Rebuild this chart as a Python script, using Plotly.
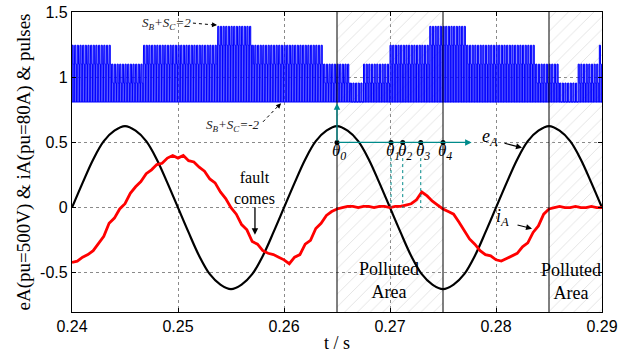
import numpy as np
import plotly.graph_objects as go

# ---------------- data ----------------
t_e = [round(0.24 + 0.001 * i, 4) for i in range(51)]
eA = [0, 0.19, 0.37, 0.51, 0.59, 0.625, 0.59, 0.51, 0.37, 0.19,
      0, -0.19, -0.37, -0.51, -0.59, -0.625, -0.59, -0.51, -0.37, -0.19,
      0, 0.19, 0.37, 0.51, 0.59, 0.625, 0.59, 0.51, 0.37, 0.19,
      0, -0.19, -0.37, -0.51, -0.59, -0.625, -0.59, -0.51, -0.37, -0.19,
      0, 0.19, 0.37, 0.51, 0.59, 0.625, 0.59, 0.51, 0.37, 0.19, 0]

t_i = [round(0.24 + 0.0005 * i, 5) for i in range(101)]
iA = [-0.42, -0.41, -0.38, -0.36, -0.33, -0.27, -0.22, -0.12, -0.08, -0.01,
      0.03, 0.11, 0.16, 0.20, 0.26, 0.29, 0.33, 0.34, 0.38, 0.40,
      0.38, 0.40, 0.36, 0.35, 0.31, 0.28, 0.22, 0.19, 0.12, 0.07,
      0.00, -0.05, -0.13, -0.17, -0.26, -0.28, -0.33, -0.35, -0.36, -0.38,
      -0.40, -0.43, -0.38, -0.36, -0.28, -0.25, -0.16, -0.12, -0.06, -0.03,
      -0.01, 0.00, 0.01, 0.01, 0.00, 0.01, 0.01, 0.00, 0.01, 0.01,
      0.00, 0.01, 0.01, 0.02, 0.03, 0.06, 0.12, 0.09, 0.05, 0.02,
      -0.01, -0.03, -0.05, -0.11, -0.17, -0.24, -0.28, -0.33, -0.36, -0.37,
      -0.40, -0.41, -0.39, -0.37, -0.35, -0.30, -0.27, -0.19, -0.14, -0.05,
      -0.01, 0.00, 0.01, 0.00, 0.00, 0.01, 0.00, 0.00, 0.01, 0.00, 0.00]

# switching-state envelope (S_B+S_C)
pulse_edges = [0.2400, 0.2436, 0.2467, 0.2537, 0.2570, 0.2636, 0.2661, 0.2675,
               0.2699, 0.2737, 0.2772, 0.2836, 0.2860, 0.2876, 0.2897, 0.2900]
pulse_states = [1, 0, 1, 2, 1, 0, -1, 0, 1, 2, 1, 0, -1, 0, 1]
pulse_offset = 1.1
pulse_step = 0.145
pulse_period = 0.00025

theta_t = [0.265, 0.2701, 0.2712, 0.2729, 0.275]
theta_names = ["θ<sub>0</sub>", "θ<sub>1</sub>", "θ<sub>2</sub>", "θ<sub>3</sub>", "θ<sub>4</sub>"]
polluted_regions = [(0.265, 0.275), (0.285, 0.290)]
boundary_lines = [0.265, 0.275, 0.285]

x_ticks = [0.24, 0.25, 0.26, 0.27, 0.28, 0.29]
y_ticks = [-0.5, 0, 0.5, 1, 1.5]

# ---------------- build pulse train ----------------
def lvl(s):
    return pulse_offset + pulse_step * s

px, py = [], []
n_per = int(round((0.29 - 0.24) / pulse_period))
low = lvl(-2)
for k in range(n_per):
    t0 = 0.24 + k * pulse_period
    idx = max(0, np.searchsorted(pulse_edges, t0 + 1e-9) - 1)
    idx = min(idx, len(pulse_states) - 1)
    s = pulse_states[idx]
    top = lvl(s)
    mid = lvl(max(s - 1, -2))
    ta = t0 + 0.45 * pulse_period
    tb = t0 + 0.78 * pulse_period
    px += [t0, t0, ta, ta, tb, tb]
    py += [low, top, top, mid, mid, low]
px.append(0.29)
py.append(low)

SERIF = "Liberation Serif"
SANS = "Liberation Sans"
TEAL = "#008B8B"

fig = go.Figure()

# hatched polluted areas
fig.add_trace(go.Bar(
    x=[(a + b) / 2 for a, b in polluted_regions],
    y=[2.3 for _ in polluted_regions],
    base=[-0.8 for _ in polluted_regions],
    width=[b - a for a, b in polluted_regions],
    marker=dict(color="rgba(0,0,0,0)", line=dict(width=0),
                pattern=dict(shape="/", fgcolor="#c4c4c4", bgcolor="rgba(0,0,0,0)",
                             size=9, solidity=0.1)),
    showlegend=False, hoverinfo="skip"))

# pulse train: baseline + filled trace
fig.add_trace(go.Scatter(x=[0.24, 0.29], y=[low, low], mode="lines",
                         line=dict(color="#0000FF", width=1), showlegend=False))
fig.add_trace(go.Scatter(x=px, y=py, mode="lines", fill="tonexty",
                         fillcolor="rgba(10,10,255,0.68)",
                         line=dict(color="#0000FF", width=1), showlegend=False))
fig.add_trace(go.Scatter(x=t_e, y=eA, mode="lines", line_shape="spline",
                         line=dict(color="black", width=2.2), showlegend=False))
fig.add_trace(go.Scatter(x=t_i, y=iA, mode="lines",
                         line=dict(color="#FF0000", width=2.8), showlegend=False))

# theta dashed drops
for tt in theta_t[1:4]:
    fig.add_shape(type="line", x0=tt, x1=tt, y0=0.38, y1=0.0,
                  line=dict(color=TEAL, width=1, dash="dot"))

# teal arrows
fig.add_annotation(x=0.2777, y=0.5, ax=0.265, ay=0.5, axref="x", ayref="y",
                   showarrow=True, arrowhead=2, arrowsize=1, arrowwidth=1.3,
                   arrowcolor=TEAL, text="")
fig.add_annotation(x=0.265, y=0.80, ax=0.265, ay=0.5, axref="x", ayref="y",
                   showarrow=True, arrowhead=2, arrowsize=1, arrowwidth=1.3,
                   arrowcolor=TEAL, text="")

fig.add_trace(go.Scatter(x=theta_t, y=[0.5] * len(theta_t), mode="markers",
                         marker=dict(color="black", size=5), showlegend=False))
for tt, nm in zip(theta_t, theta_names):
    fig.add_annotation(x=tt, y=0.43, text="<i>" + nm + "</i>", showarrow=False, xshift=2,
                       font=dict(family=SERIF, size=17, color="black"))

# boundary lines
for b in boundary_lines:
    fig.add_shape(type="line", x0=b, x1=b, y0=-0.8, y1=1.5,
                  line=dict(color="black", width=1))

# labels with arrows
fig.add_annotation(x=0.24896, y=1.415, text="<i>S<sub>B</sub>+S<sub>C</sub>=2</i>",
                   showarrow=False, font=dict(family=SERIF, size=13, color="#222"))
fig.add_shape(type="line", x0=0.25141, y0=1.415, x1=0.2535, y1=1.40,
              line=dict(color="black", width=1, dash="dot"))
fig.add_annotation(x=0.25368, y=1.40, ax=0.2532, ay=1.403, axref="x", ayref="y",
                   showarrow=True, arrowhead=2, arrowsize=1, arrowwidth=1,
                   arrowcolor="black", text="")

fig.add_annotation(x=0.25519, y=0.631, text="<i>S<sub>B</sub>+S<sub>C</sub>=-2</i>",
                   showarrow=False, font=dict(family=SERIF, size=13, color="#222"))
fig.add_shape(type="line", x0=0.25802, y0=0.658, x1=0.2594, y1=0.775,
              line=dict(color="black", width=1, dash="dot"))
fig.add_annotation(x=0.25972, y=0.80, ax=0.2593, ay=0.765, axref="x", ayref="y",
                   showarrow=True, arrowhead=2, arrowsize=1, arrowwidth=1,
                   arrowcolor="black", text="")

fig.add_annotation(x=0.25726, y=0.153, text="fault<br>comes", showarrow=False,
                   font=dict(family=SERIF, size=16, color="black"))
fig.add_annotation(x=0.25726, y=-0.207, ax=0.25726, ay=0.015, axref="x", ayref="y",
                   showarrow=True, arrowhead=2, arrowsize=1, arrowwidth=1.3,
                   arrowcolor="black", text="")

fig.add_annotation(x=0.27943, y=0.536, text="<i>e<sub>A</sub></i>", showarrow=False,
                   font=dict(family=SERIF, size=18, color="black"))
fig.add_annotation(x=0.28245, y=0.459, ax=0.28066, ay=0.497, axref="x", ayref="y",
                   showarrow=True, arrowhead=2, arrowsize=1, arrowwidth=1.2,
                   arrowcolor="black", text="")
fig.add_annotation(x=0.28057, y=-0.077, text="<i>i<sub>A</sub></i>", showarrow=False,
                   font=dict(family=SERIF, size=18, color="black"))
fig.add_annotation(x=0.2834, y=-0.161, ax=0.28189, ay=-0.13, axref="x", ayref="y",
                   showarrow=True, arrowhead=2, arrowsize=1, arrowwidth=1.2,
                   arrowcolor="black", text="")

fig.add_annotation(x=0.2699, y=-0.555, text="Polluted<br>Area", showarrow=False,
                   font=dict(family=SERIF, size=18, color="black"))
fig.add_annotation(x=0.2871, y=-0.565, text="Polluted<br>Area", showarrow=False,
                   font=dict(family=SERIF, size=18, color="black"))

axis_common = dict(showline=True, linecolor="black", linewidth=1.2, mirror="ticks",
                   ticks="inside", ticklen=4, tickcolor="black",
                   showgrid=True, gridcolor="#8a8a8a", gridwidth=1, griddash="dot",
                   zeroline=False, automargin=False,
                   tickfont=dict(family=SANS, size=16, color="black"))

fig.update_layout(
    width=638, height=364,
    margin=dict(l=72, r=36, t=12, b=52),
    paper_bgcolor="white", plot_bgcolor="white",
    showlegend=False, bargap=0,
    xaxis=dict(range=[0.24, 0.29], tickvals=x_ticks,
               ticktext=[f"{v:.2f}" for v in x_ticks],
               title=dict(text="t / s", font=dict(family=SERIF, size=18, color="black"),
                          standoff=2),
               **axis_common),
    yaxis=dict(range=[-0.8, 1.5], tickvals=y_ticks,
               ticktext=[("%g" % v) for v in y_ticks],
               title=dict(text="eA(pu=500V) & iA(pu=80A) & pulses",
                          font=dict(family=SERIF, size=19, color="black"), standoff=4),
               **axis_common),
)

# remove the default 8px page margin so the figure fills the window exactly
fig.write_html("out.html",
               config={"displayModeBar": False},
               post_script="document.body.style.margin='0px';document.body.style.overflow='hidden';")
